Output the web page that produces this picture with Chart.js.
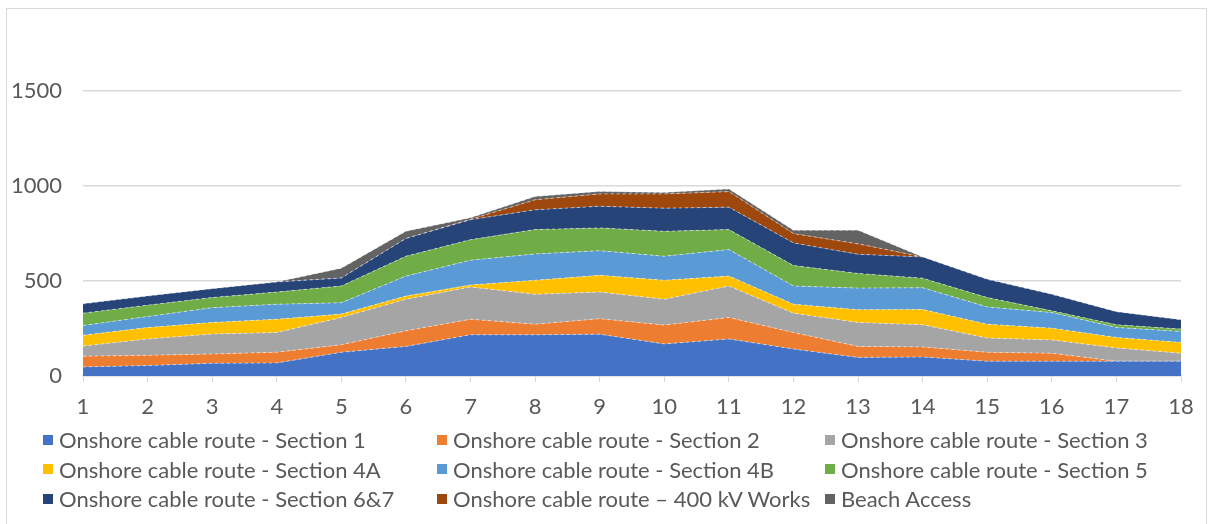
<!DOCTYPE html>
<html>
<head>
<meta charset="utf-8">
<script src="https://cdn.jsdelivr.net/npm/chart.js@4"></script>
<style>
  html, body { margin: 0; padding: 0; background: #fff; }
  #wrap { position: relative; width: 1214px; height: 524px; overflow: hidden; }
  #frame { position: absolute; left: 6px; top: 8px; width: 1201px; height: 520px; border: 1px solid #d9d9d9; box-sizing: border-box; }
  #chart { position: absolute; left: 0; top: 0; }
  #legend {
    position: absolute; left: 43px; top: 425px;
    display: grid; grid-template-columns: 394px 388px auto; grid-auto-rows: 29.5px;
    font-family: Lato, 'Liberation Sans', sans-serif; font-size: 22px; color: #595959;
  }
  #legend .item { display: flex; align-items: center; white-space: nowrap; }
  #legend .sw { width: 10px; height: 10px; margin-right: 6px; flex: none; }
</style>
</head>
<body>
<div id="wrap">
  <div id="frame"></div>
  <canvas id="chart" width="1214" height="524"></canvas>
  <div id="legend"></div>
</div>
<script>
/* ---------- data ---------- */
const labels = ['1','2','3','4','5','6','7','8','9','10','11','12','13','14','15','16','17','18'];

const section1   = [48, 55, 67, 69, 125, 156, 217, 217, 220, 169, 195, 142,  98, 100, 78, 78, 78, 78];
const section2   = [56, 54, 49, 56,  40,  82,  82,  56,  82,  99, 113,  87,  58,  53, 47, 42,  0,  0];
const section3   = [54, 86, 105, 104, 143, 166, 170, 157, 140, 136, 166, 102, 126, 117, 75, 70, 70, 42];
const section4A  = [56, 60, 61, 70,  18,  17,  10,  74,  88, 100,  52,  47,  67,  80, 73, 62, 55, 57];
const section4B  = [52, 58, 78, 79,  60, 105, 131, 139, 130, 127, 140,  96, 114, 115, 91, 82, 53, 58];
const section5   = [65, 60, 53, 64,  88, 105, 108, 128, 120, 131, 105, 108,  77,  50, 49,  9, 14, 12];
const section67  = [49, 48, 47, 53,  42,  93, 105, 104, 114, 122, 118, 119, 101, 112, 96, 87, 69, 49];
const works400kV = [ 0,  0,  0,  0,   0,   0,   2,  53,  65,  75,  82,  49,  55,   0,  0,  0,  0,  0];
const beach      = [ 0,  0,  0,  0,  52,  38,   8,  17,  13,   7,  14,  17,  72,   0,  0,  0,  0,  0];

const seriesNames = [
  'Onshore cable route - Section 1',
  'Onshore cable route - Section 2',
  'Onshore cable route - Section 3',
  'Onshore cable route - Section 4A',
  'Onshore cable route - Section 4B',
  'Onshore cable route - Section 5',
  'Onshore cable route - Section 6&7',
  'Onshore cable route \u2013 400 kV Works',
  'Beach Access'
];
const seriesData = [section1, section2, section3, section4A, section4B, section5, section67, works400kV, beach];
const colors = ['#4472C4', '#ED7D31', '#A5A5A5', '#FFC000', '#5B9BD5', '#70AD47', '#264478', '#9E480E', '#636363'];

const yTicks = [0, 500, 1000, 1500];

/* ---------- chart ---------- */
const FONT = { family: 'Lato, "Liberation Sans", sans-serif', size: 22 };
const TEXT = '#595959';
const GRID = '#d9d9d9';

const datasets = seriesNames.map((name, i) => ({
  label: name,
  data: seriesData[i],
  backgroundColor: colors[i],
  borderColor: 'rgba(255,255,255,0.55)',
  borderWidth: 1,
  borderDash: [3, 3],
  fill: i === 0 ? 'origin' : '-1',
  pointRadius: 0,
  tension: 0
}));

const chart = new Chart(document.getElementById('chart'), {
  type: 'line',
  data: { labels, datasets },
  options: {
    responsive: false,
    animation: false,
    layout: { padding: { top: 31, right: 33, left: 0, bottom: 0 } },
    plugins: { legend: { display: false }, tooltip: { enabled: false } },
    scales: {
      x: {
        offset: false,
        grid: { drawOnChartArea: false, drawTicks: true, tickLength: 6, color: GRID },
        border: { color: GRID, width: 1.5 },
        ticks: { color: TEXT, font: FONT, padding: 12, maxRotation: 0, autoSkip: false },
        afterFit: axis => { axis.height = 524 - 376; }
      },
      y: {
        stacked: true,
        min: 0,
        max: 1800,
        grid: { color: GRID, lineWidth: 1.5, drawTicks: false },
        border: { display: false },
        ticks: { color: TEXT, font: FONT, padding: 21, callback: v => String(v) },
        afterBuildTicks: axis => { axis.ticks = yTicks.map(v => ({ value: v })); },
        afterFit: axis => { axis.width = 83; }
      }
    }
  }
});

/* ---------- legend (3 columns like Excel) ---------- */
document.getElementById('legend').innerHTML = chart.data.datasets.map(ds =>
  `<div class="item"><span class="sw" style="background:${ds.backgroundColor}"></span>${ds.label}</div>`
).join('');
</script>
</body>
</html>
